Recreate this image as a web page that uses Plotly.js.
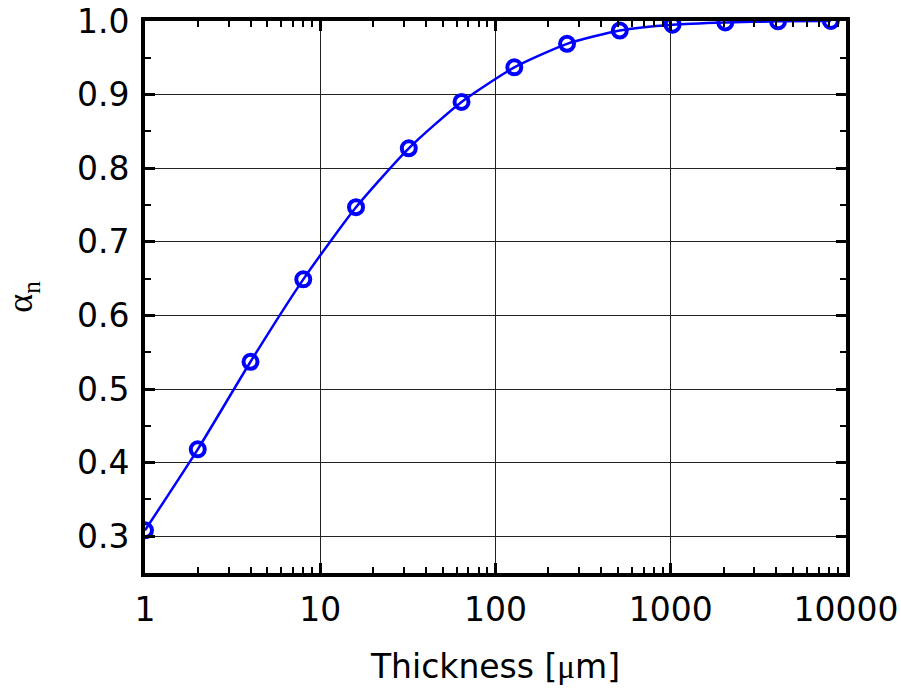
<!DOCTYPE html>
<html>
<head>
<meta charset="utf-8">
<script src="https://cdn.plot.ly/plotly-3.0.1.min.js"></script>
<style>html,body{margin:0;padding:0;background:#fff;}</style>
</head>
<body>
<div id="chart" style="width:901px;height:692px;"></div>
<script>
const thickness = [1, 2, 4, 8, 16, 32, 64, 128, 256, 512, 1024, 2048, 4096, 8192];
const alphaN = [0.308, 0.418, 0.537, 0.649, 0.747, 0.827, 0.890, 0.937, 0.969, 0.987, 0.995, 0.998, 0.9995, 1.0];
const xTickVals = [1, 10, 100, 1000, 10000];
const xTickText = ['1', '10', '100', '1000', '10000'];
const yTickVals = [0.3, 0.4, 0.5, 0.6, 0.7, 0.8, 0.9, 1.0];
const yTickText = ['0.3', '0.4', '0.5', '0.6', '0.7', '0.8', '0.9', '1.0'];

const trace = {
  x: thickness,
  y: alphaN,
  type: 'scatter',
  mode: 'lines+markers',
  line: {color: '#0000ff', width: 2.5, shape: 'spline', smoothing: 0.6},
  marker: {symbol: 'circle-open', size: 14, color: '#0000ff', line: {width: 4, color: '#0000ff'}},
  showlegend: false
};

const tickFont = {family: 'DejaVu Sans, Arial, sans-serif', size: 33, color: '#000'};

const layout = {
  width: 901, height: 692,
  margin: {l: 145, r: 55, t: 21, b: 119},
  paper_bgcolor: '#fff', plot_bgcolor: '#fff',
  xaxis: {
    type: 'log', range: [0, 4],
    tickvals: xTickVals, ticktext: xTickText,
    tickfont: tickFont,
    ticks: 'inside', ticklen: 10, tickwidth: 3, tickcolor: '#000',
    ticklabelstandoff: 4,
    minor: {ticks: 'inside', ticklen: 6, tickwidth: 2, tickcolor: '#000', dtick: 'D1', showgrid: false},
    showline: true, linewidth: 4, linecolor: '#000', mirror: 'ticks',
    showgrid: true, gridcolor: '#222', gridwidth: 1,
    zeroline: false,
    title: {text: 'Thickness [<span style="font-family:Liberation Serif">μ</span>m]', font: {family: 'DejaVu Sans, Arial, sans-serif', size: 33, color: '#000'}, standoff: 28}
  },
  yaxis: {
    range: [0.25, 1.0],
    tickvals: yTickVals, ticktext: yTickText,
    tickfont: tickFont,
    ticks: 'inside', ticklen: 10, tickwidth: 3, tickcolor: '#000',
    ticklabelstandoff: 5,
    minor: {ticks: 'inside', ticklen: 6, tickwidth: 2, tickcolor: '#000', dtick: 0.05, tick0: 0.25, showgrid: false},
    showline: true, linewidth: 4, linecolor: '#000', mirror: 'ticks',
    showgrid: true, gridcolor: '#222', gridwidth: 1,
    zeroline: false,
    title: {text: 'α<sub>n</sub>', font: {family: 'Liberation Serif, serif', size: 36, color: '#000'}, standoff: 35}
  }
};

Plotly.newPlot('chart', [trace], layout, {displayModeBar: false, staticPlot: true});
</script>
</body>
</html>
